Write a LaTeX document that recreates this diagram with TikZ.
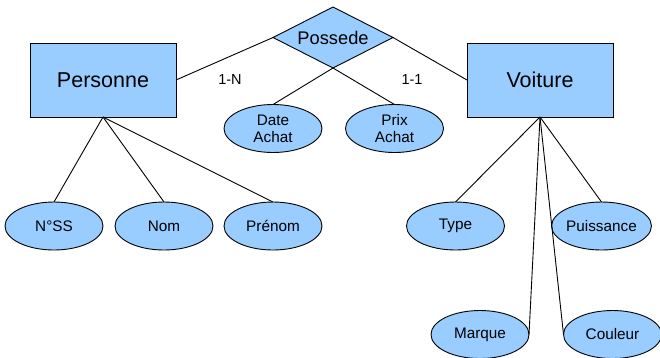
\documentclass[tikz,border=0pt]{standalone}
\usepackage{fontspec}
\setmainfont{Liberation Sans}
\usetikzlibrary{shapes.geometric}
\definecolor{erblue}{HTML}{99CCFF}
\begin{document}
\begin{tikzpicture}[x=1pt,y=-1pt,
  entity/.style={draw=black,fill=erblue,line width=0.9pt,minimum width=146pt,minimum height=74pt,inner sep=0pt,outer sep=0pt,font=\fontsize{21.5}{24}\selectfont},
  relation/.style={draw=black,fill=erblue,line width=0.9pt,diamond,aspect=1.97,minimum width=120pt,minimum height=61pt,inner sep=0pt,outer sep=0pt,font=\fontsize{18.3}{21}\selectfont},
  attr/.style={draw=black,fill=erblue,line width=0.9pt,ellipse,minimum width=98pt,minimum height=48pt,inner sep=0pt,outer sep=0pt,align=center,font=\fontsize{15.3}{16.8}\selectfont},
  card/.style={font=\fontsize{14.5}{16}\selectfont,inner sep=0pt},
  link/.style={draw=black,line width=0.9pt}]
\useasboundingbox (0,0) rectangle (660,357);
% links first (drawn under shapes)
\node[entity] (pers) at (103,80) {Personne};
\node[entity] (voit) at (540,80) {Voiture};
\node[relation] (poss) at (333,37.5) {Possede};
\node[attr] (date) at (273,128.5) {Date\\Achat};
\node[attr] (prix) at (394.5,128.5) {Prix\\Achat};
\node[attr] (nss) at (54,226) {N°SS};
\node[attr] (nom) at (164,226) {Nom};
\node[attr] (pren) at (273,226) {Prénom};
\node[attr] (type) at (455.5,226) {Type};
\node[attr] (puis) at (601.5,226) {Puissance};
\node[attr] (marq) at (480,334.5) {Marque};
\node[attr] (coul) at (612.5,334.5) {Couleur};
\node[card] (c1n) at (230,80) {1-N};
\node[card] (c11) at (412,80) {1-1};
\draw[link] (pers.east) -- (poss.west);
\draw[link] (poss.east) -- (voit.west);
\draw[link] (poss.south) -- (date.north);
\draw[link] (poss.south) -- (prix.north);
\draw[link] (pers.south) -- (nss.north);
\draw[link] (pers.south) -- (nom.north);
\draw[link] (pers.south) -- (pren.north);
\draw[link] (voit.south) -- (type.north);
\draw[link] (voit.south) -- (puis.north);
\draw[link] (voit.south) -- (marq.east);
\draw[link] (voit.south) -- (coul.west);
\end{tikzpicture}
\end{document}
